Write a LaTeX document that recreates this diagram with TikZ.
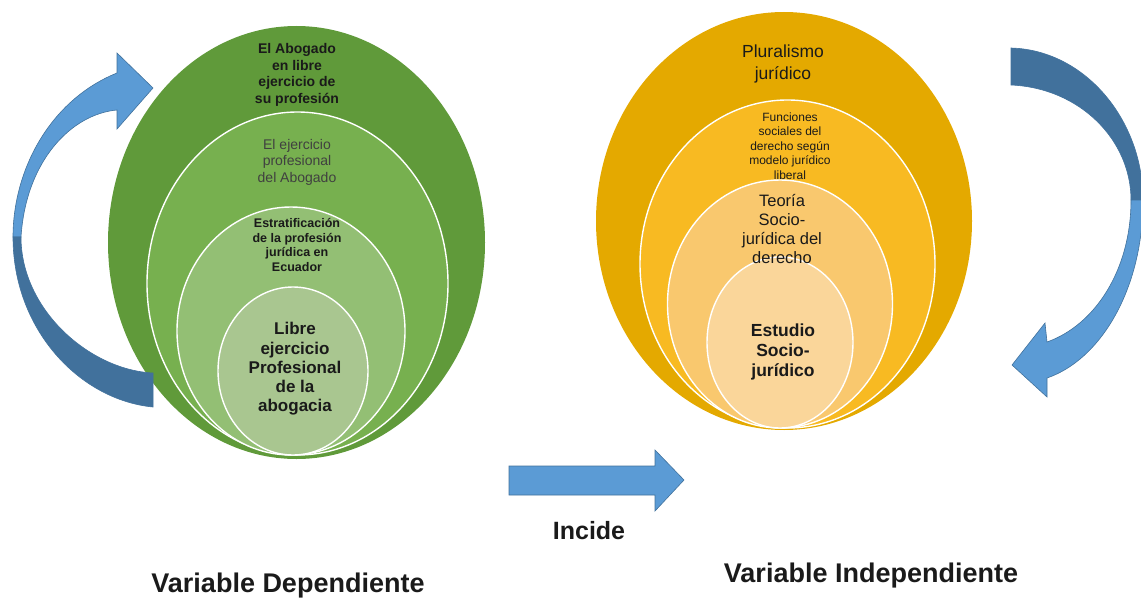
\documentclass[tikz,border=0pt]{standalone}
\usepackage{fontspec}
\setmainfont{Liberation Sans}
\usetikzlibrary{shapes.geometric}

\definecolor{grA}{HTML}{609A3A}
\definecolor{grB}{HTML}{77B04F}
\definecolor{grC}{HTML}{93BF74}
\definecolor{grD}{HTML}{A9C690}
\definecolor{orA}{HTML}{E4A900}
\definecolor{orB}{HTML}{F8BA22}
\definecolor{orC}{HTML}{F9C86E}
\definecolor{orD}{HTML}{FAD69A}
\definecolor{bluL}{HTML}{5B9BD5}
\definecolor{bluD}{HTML}{41719C}
\definecolor{txt}{HTML}{1A1A1A}

\newcommand{\fs}[2]{\fontsize{#1}{#2}\selectfont}

\begin{document}
\begin{tikzpicture}[x=1pt,y=-1pt]
				\tikzstyle{ov}=[ellipse, inner sep=0pt]
				\tikzstyle{ring}=[ov, draw=white, line width=1.4pt]
				\tikzstyle{lbl}=[align=center, inner sep=0pt, text=txt]
				\tikzstyle{blk}=[draw=bluD, line width=0.6pt]

				\useasboundingbox (0,0) rectangle (1141,602);

				% variable dependiente
				\node[ov, fill=grA, minimum width=377pt, minimum height=433pt] (g1) at (296.5,242.5) {};
				\node[ring, fill=grB, minimum width=301pt, minimum height=343pt] (g2) at (297.5,283.5) {};
				\node[ring, fill=grC, minimum width=228pt, minimum height=248pt] (g3) at (291,331) {};
				\node[ring, fill=grD, minimum width=150pt, minimum height=168pt] (g4) at (293,371) {};

				\node[lbl, font=\fs{14}{16.7}\bfseries] (g1t) at (297,75) {El Abogado\\en libre\\ejercicio de\\su profesión};
				\node[lbl, font=\fs{14}{16.5}, text=black!75] (g2t) at (297,162) {El ejercicio\\profesional\\del Abogado};
				\node[lbl, font=\fs{12.5}{14.8}\bfseries] (g3t) at (297,245) {Estratificación\\de la profesión\\jurídica en\\Ecuador};
				\node[lbl, font=\fs{17}{19.3}\bfseries] (g4t) at (295,369) {Libre\\ejercicio\\Profesional\\de la\\abogacia};

				% variable independiente
				\node[ov, fill=orA, minimum width=376pt, minimum height=418pt] (o1) at (784,221) {};
				\node[ring, fill=orB, minimum width=295pt, minimum height=328pt] (o2) at (787.5,264) {};
				\node[ring, fill=orC, minimum width=225pt, minimum height=248pt] (o3) at (780,304) {};
				\node[ring, fill=orD, minimum width=146pt, minimum height=171pt] (o4) at (780,342.5) {};

				\node[lbl, font=\fs{17.5}{22}] (o1t) at (783,64) {Pluralismo\\jurídico};
				\node[lbl, font=\fs{12}{14.5}] (o2t) at (790,146) {Funciones\\sociales del\\derecho según\\modelo jurídico\\liberal};
				\node[lbl, font=\fs{16.5}{19.3}] (o3t) at (782,229) {Teoría\\Socio-\\jurídica del\\derecho};
				\node[lbl, font=\fs{17.5}{20}\bfseries] (o4t) at (783,352) {Estudio\\Socio-\\jurídico};

				% flechas curvas
				\fill[bluL, blk] (13,237) .. controls (13,170) and (50,100) .. (117,73) -- (117,53) -- (153,88) -- (117,129) -- (117,110) .. controls (72,114) and (26,160) .. (21,237) -- cycle;
				\fill[bluD, blk] (13,237) .. controls (13,330) and (80,400) .. (153,407) -- (153,373) .. controls (90,370) and (21,310) .. (21,237) -- cycle;

				\fill[bluD, blk] (1011,48) .. controls (1085,50) and (1143,120) .. (1143,200) -- (1131,200) .. controls (1131,140) and (1080,88) .. (1011,85) -- cycle;
				\fill[bluL, blk] (1143,200) .. controls (1143,290) and (1100,360) .. (1047,378) -- (1047,397) -- (1012,365) -- (1045,323) -- (1047,342) .. controls (1095,325) and (1131,270) .. (1131,200) -- cycle;

				% incide
				\fill[bluL, blk] (509,466) -- (655,466) -- (655,450) -- (684,480) -- (655,511) -- (655,495) -- (509,495) -- cycle;

				\node[lbl, font=\fs{25}{28}\bfseries] (inc) at (589,531) {Incide};
				\node[lbl, font=\fs{27}{30}\bfseries] (vdep) at (288,586) {Variable Dependiente};
				\node[lbl, font=\fs{27}{30}\bfseries] (vind) at (871,576) {Variable Independiente};
			\end{tikzpicture}
\end{document}
